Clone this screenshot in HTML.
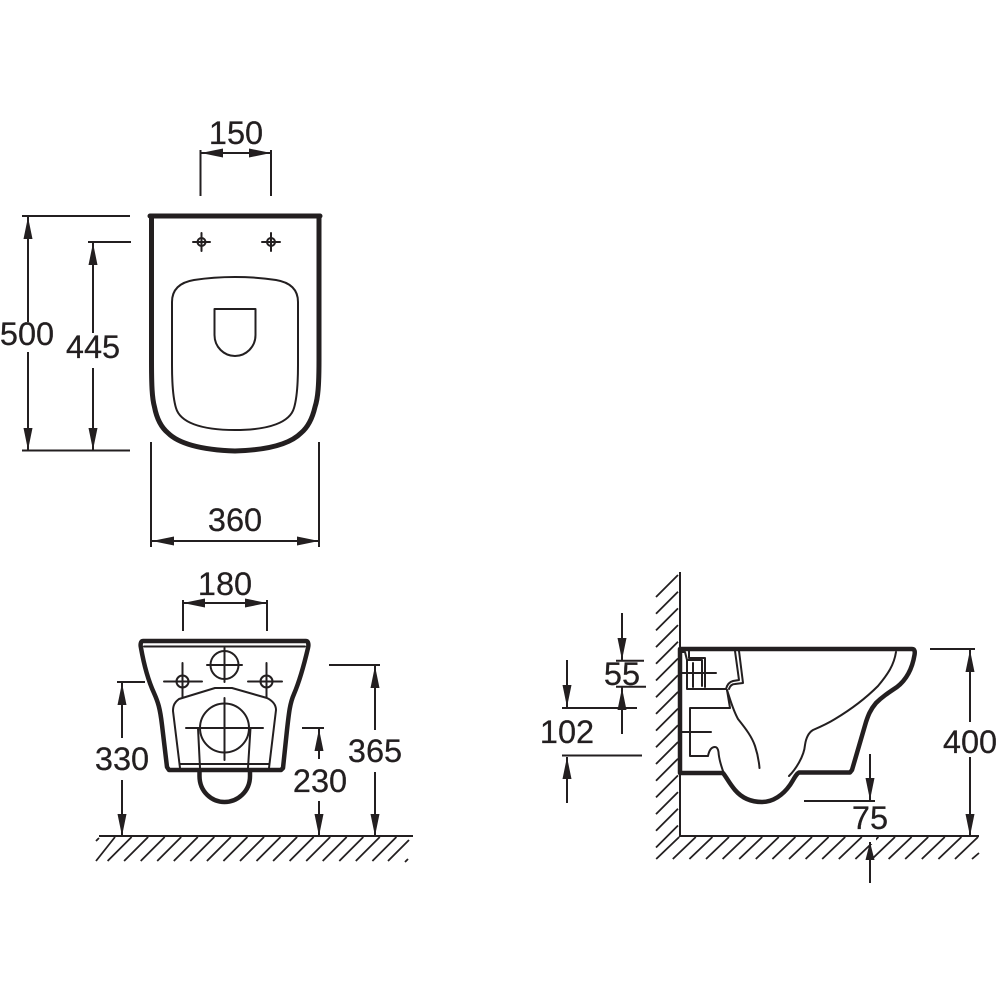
<!DOCTYPE html>
<html>
<head>
<meta charset="utf-8">
<style>
html,body{margin:0;padding:0;background:#fff}
svg{display:block}
text{font-family:"Liberation Sans",sans-serif;font-size:32.5px;fill:#231f20;text-anchor:middle;stroke:#231f20;stroke-width:.25}
.t{fill:none;stroke:#231f20;stroke-width:2;stroke-linejoin:round;stroke-linecap:round}
.d{fill:none;stroke:#231f20;stroke-width:2}
.k{fill:none;stroke:#231f20;stroke-width:4.500;stroke-linejoin:round;stroke-linecap:round}
.h{fill:none;stroke:#231f20;stroke-width:1.800}
polygon{fill:#231f20}
</style>
</head>
<body>
<svg width="1000" height="1000" viewBox="0 0 1000 1000" xmlns="http://www.w3.org/2000/svg">
<rect width="1000" height="1000" fill="#fff"/>

<!-- TOP VIEW -->
<path class="k" stroke-width="5" style="stroke-width:5" d="M150 216H320"/>
<path class="k" style="stroke-width:5" d="M151.500 216V360C151.500 385 152 398 154.500 407C157 420 162 428 168 433C178 443 200 450 235 451C270 450 291 443 301 433C307 428 312 420 315 407C318 398 319 385 319 360V216"/>
<path class="t" d="M172 302C172 288 182 282 194 280C220 276 250 276 276 280C288 282 298 288 298 302V365C298 385 297 398 294 408C290 422 270 430 235 430C200 430 180 422 176 408C173 398 172 385 172 365Z"/>
<path class="t" d="M214.500 309H255.500V335C255.500 347 246 356 235 356C224 356 214.500 347 214.500 335Z"/>
<g>
<circle class="t" cx="201.500" cy="242" r="4"/><path class="t" stroke-width="2.600" d="M193 242H210M201.500 233V251"/>
<circle class="t" cx="271" cy="242" r="4"/><path class="t" stroke-width="2.600" d="M262 242H280M271 233V251"/>
</g>

<!-- 150 -->
<text x="236" y="144">150</text>
<path class="d" d="M200.500 150V196M271 150V196M201 153H271"/>
<polygon points="201,153 223,148.500 223,157.500"/><polygon points="271,153 249,148.500 249,157.500"/>

<!-- 500 -->
<path class="d" d="M22 216H130M22 450.500H130M28 216V322M28 352V450"/>
<polygon points="28,217 23.500,239 32.500,239"/><polygon points="28,450 23.500,428 32.500,428"/>
<text x="27" y="345">500</text>

<!-- 445 -->
<path class="d" d="M88 242H131M93 243V333M93 368V450"/>
<polygon points="93,243 88.500,265 97.500,265"/><polygon points="93,450 88.500,428 97.500,428"/>
<text x="93" y="358">445</text>

<!-- 360 -->
<path class="d" d="M151 442V547M319 442V547M152 541H319"/>
<polygon points="152,541 174,536.500 174,545.500"/><polygon points="319,541 297,536.500 297,545.500"/>
<text x="235" y="531">360</text>

<!-- FRONT VIEW -->
<path class="k" d="M143 641H306C308 641 309 644 308 648C304 665 300 680 294 694C290 703 289 712 287 730L283 768L281 770H169L167 767L162 725C160 708 158 702 154 693C148 680 144 665 141 648C140 644 141 641 143 641Z"/>
<path class="t" d="M144 646.500H305"/>
<path class="k" d="M199.500 771V776C199.500 792 212 802 224.500 802C237 802 250 792 250 776V771"/>
<path class="t" d="M180 768L173 711C173 705 175 702 179 699L215 688H232L267 698C273 701 276 705 276 710L269 768M180 764H269"/>
<path class="t" d="M198 728L200 768M250.500 728L248 768"/>
<circle class="t" cx="224.500" cy="728" r="24.500"/>
<path class="t" stroke-width="2.200" d="M186 728H263M224.500 698V760"/>
<circle class="t" cx="224.500" cy="665" r="14"/>
<path class="t" d="M207 665H242M224.500 648V682"/>
<circle class="t" cx="182.500" cy="681.500" r="6"/>
<path class="t" d="M164 681.500H202M182.500 663V697"/>
<circle class="t" cx="266.500" cy="681.500" r="6"/>
<path class="t" d="M248 681.500H282M266.500 663V697"/>

<!-- 180 -->
<text x="225" y="595">180</text>
<path class="d" d="M183 600V631M267 600V631M183 603H267"/>
<polygon points="183,603 205,598.500 205,607.500"/><polygon points="267,603 245,598.500 245,607.500"/>

<!-- 330 -->
<path class="d" d="M117 682H145M122 683V738M122 780V836"/>
<polygon points="122,683 117.500,705 126.500,705"/><polygon points="122,836 117.500,814 126.500,814"/>
<text x="122" y="770">330</text>

<!-- 365 -->
<path class="d" d="M329 665H380M375 666V730M375 772V836"/>
<polygon points="375,666 370.500,688 379.500,688"/><polygon points="375,836 370.500,814 379.500,814"/>
<text x="375" y="762">365</text>

<!-- 230 -->
<path class="d" d="M302 728H324M319 729V759M319 801V836"/>
<polygon points="319,729 314.500,751 323.500,751"/><polygon points="319,836 314.500,814 323.500,814"/>
<text x="320" y="792">230</text>

<!-- Ground left -->
<path class="d" d="M99 836H413"/>
<path class="h" d="M115 837l-19 24M131.600 837l-24 24M148.100 837l-24 24M164.700 837l-24 24M181.200 837l-24 24M197.800 837l-24 24M214.300 837l-24 24M230.900 837l-24 24M247.400 837l-24 24M264 837l-24 24M280.500 837l-24 24M297.100 837l-24 24M313.600 837l-24 24M330.200 837l-24 24M346.700 837l-24 24M363.300 837l-24 24M379.800 837l-24 24M396.400 837l-24 24M409 840l-21 21M99 838l-3 3M408 859l-3 3"/>

<!-- SIDE VIEW: wall and ground -->
<path class="d" d="M680 572V836H979"/>
<path class="h" d="M678 575l-22 22M678 591.700l-22 22M678 608.400l-22 22M678 625.100l-22 22M678 641.800l-22 22M678 658.500l-22 22M678 675.200l-22 22M678 691.900l-22 22M678 708.600l-22 22M678 725.300l-22 22M678 742l-22 22M678 758.700l-22 22M678 775.400l-22 22M678 792.100l-22 22M678 808.800l-22 22M678 825.500l-22 22"/>
<path class="h" d="M978 837l-23 22M961.400 837l-23 22M944.800 837l-23 22M928.200 837l-23 22M911.600 837l-23 22M895 837l-23 22M878.400 837l-23 22M861.800 837l-23 22M845.200 837l-23 22M828.600 837l-23 22M812 837l-23 22M795.400 837l-23 22M778.800 837l-23 22M762.200 837l-23 22M745.600 837l-23 22M729 837l-23 22M712.400 837l-23 22M695.800 837l-23 22M679.200 837l-23 22M979 853l-7 6"/>

<!-- SIDE VIEW: body -->
<path class="k" d="M680 773V649H912C915 649 915 652 914.500 655C912 670 906 680 897 687C888 693 882 697 876 703C870 710 868 716 866 722L852 770L850 772.500H799C796 774 794 779 790 785C783 795 773 802 762 802C750 802 741 797 735 790C729 783 727 778 723 773H680Z"/>
<path class="t" d="M896 652C894 665 888 674 878 686C866 698 850 710 835 719C827 724 820 727 813 730C808 733 806 738 805 745C804 757 795 770 789 776"/>
<path class="t" d="M727 690C731 702 733 710 738 719C746 729 752 737 755 746C758 755 759 762 759.500 768"/>
<path class="t" d="M735 651L739 680L733 681C729 682 727 685 726 689H687V660L685 652H682"/>
<path class="t" d="M739 651L743 683L735 684C732 684 730 686 729 689"/>
<path class="t" d="M689 651V658H705V687M687 660H702V686M693 663V687"/>
<path class="t" stroke-width="2.200" d="M682 673H716"/>
<path class="t" d="M727 690L730 708H690V756H708C709 751 711 747 715 747C717 747 718 749 718.500 752C719 760 721 765 723 771"/>
<path class="t" stroke-width="2.200" d="M682 732H711"/>

<!-- 55 -->
<path class="d" d="M622 613V660M616 660.700H644M616 686.700H646M622 687V734"/>
<polygon points="622,660 617.500,638 626.500,638"/><polygon points="622,688 617.500,710 626.500,710"/>
<text x="622" y="685">55</text>

<!-- 102 -->
<path class="d" d="M567 660V707M562 708H637M562 755.500H642M567 757V803"/>
<polygon points="567,707 562.500,685 571.500,685"/><polygon points="567,757 562.500,779 571.500,779"/>
<text x="567" y="743">102</text>

<!-- 400 -->
<path class="d" d="M930 649H975M970 650V722M970 757V836"/>
<polygon points="970,650 965.500,672 974.500,672"/><polygon points="970,836 965.500,814 974.500,814"/>
<text x="970" y="753">400</text>

<!-- 75 -->
<path class="d" d="M870 754V801M804 801H875"/>
<polygon points="870,800 865.500,778 874.500,778"/>
<text x="870" y="829">75</text>
<rect x="864" y="838" width="12" height="6" fill="#fff"/>
<path class="d" d="M870 842V883"/>
<polygon points="870,842 865.500,860 874.500,860"/>
</svg>
</body>
</html>
